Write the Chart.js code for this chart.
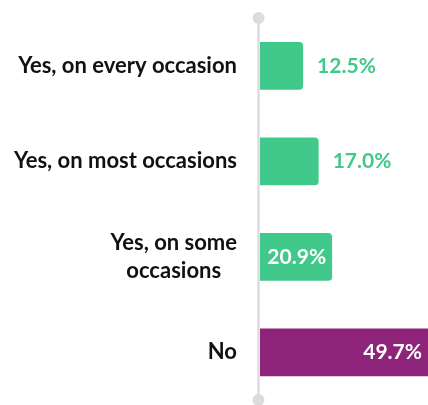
<!DOCTYPE html>
<html>
<head>
<meta charset="utf-8">
<script src="https://cdn.jsdelivr.net/npm/chart.js@4"></script>
<style>
html,body{margin:0;padding:0;background:#fff;}
#wrap{width:428px;height:405px;position:relative;}
</style>
</head>
<body>
<div id="wrap"><canvas id="c"></canvas></div>
<script>
const categories = [["Yes, on every occasion"], ["Yes, on most occasions"], ["Yes, on some", "occasions"], ["No"]];
const values = [12.5, 17.0, 20.9, 49.7];
const valueLabels = ["12.5%", "17.0%", "20.9%", "49.7%"];
const barColors = ["#40C98A", "#40C98A", "#40C98A", "#8E2479"];

const FONT = "Lato";
const labelFont = "bold 22px " + FONT;
const valueFont = "bold 21px " + FONT;

const decorPlugin = {
  id: 'decor',
  beforeDatasetsDraw(chart) {
    const ctx = chart.ctx, a = chart.chartArea;
    const x = a.left - 1.5;
    ctx.save();
    ctx.strokeStyle = '#DCDCDC';
    ctx.fillStyle = '#DCDCDC';
    ctx.lineWidth = 2.5;
    ctx.beginPath();
    ctx.moveTo(x, a.top);
    ctx.lineTo(x, a.bottom);
    ctx.stroke();
    ctx.beginPath(); ctx.arc(x, a.top, 6, 0, Math.PI * 2); ctx.fill();
    ctx.beginPath(); ctx.arc(x, a.bottom, 6, 0, Math.PI * 2); ctx.fill();
    ctx.restore();
  },
  afterDatasetsDraw(chart) {
    const ctx = chart.ctx, a = chart.chartArea;
    const yScale = chart.scales.y, xScale = chart.scales.x;
    ctx.save();
    ctx.textBaseline = 'middle';
    ctx.font = labelFont;
    ctx.fillStyle = '#111111';
    const lh = 28;
    categories.forEach((lines, i) => {
      const cy = yScale.getPixelForValue(i);
      const widths = lines.map(l => ctx.measureText(l).width);
      const maxW = Math.max(...widths);
      const right = a.left - 23;
      const cx = right - maxW / 2;
      ctx.textAlign = 'center';
      lines.forEach((l, j) => {
        const y = cy + (j - (lines.length - 1) / 2) * lh;
        ctx.fillText(l, cx, y);
      });
    });
    ctx.font = valueFont;
    values.forEach((v, i) => {
      const cy = yScale.getPixelForValue(i);
      const xe = Math.min(xScale.getPixelForValue(v), a.right);
      if (v > 20) {
        ctx.textAlign = 'right';
        ctx.fillStyle = '#FFFFFF';
        ctx.fillText(valueLabels[i], xe - 6, cy);
      } else {
        ctx.textAlign = 'left';
        ctx.fillStyle = barColors[i];
        ctx.fillText(valueLabels[i], xe + 14, cy);
      }
    });
    ctx.restore();
  }
};

new Chart(document.getElementById('c'), {
  type: 'bar',
  data: {
    labels: categories,
    datasets: [{
      data: values,
      backgroundColor: barColors,
      borderRadius: values.map(v => v > 40 ? 0 : {topLeft: 0, bottomLeft: 0, topRight: 4, bottomRight: 4}),
      borderSkipped: false,
      barPercentage: 0.5,
      categoryPercentage: 1.0
    }]
  },
  options: {
    indexAxis: 'y',
    responsive: true,
    maintainAspectRatio: false,
    animation: false,
    layout: { padding: { left: 260, right: 0, top: 18, bottom: 5 } },
    plugins: { legend: { display: false }, tooltip: { enabled: false } },
    scales: {
      x: { display: false, min: 0, max: 48.7, grid: { display: false } },
      y: { display: false, grid: { display: false } }
    }
  },
  plugins: [decorPlugin]
});
</script>
</body>
</html>
